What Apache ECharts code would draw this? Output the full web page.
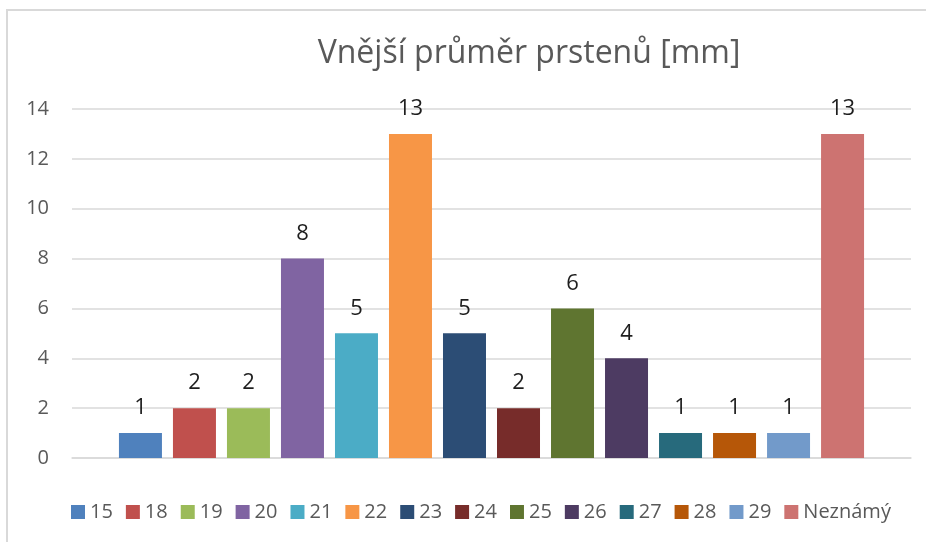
<!DOCTYPE html>
<html>
<head>
<meta charset="utf-8">
<title>Vnější průměr prstenů</title>
<script src="https://cdn.jsdelivr.net/npm/echarts@6/dist/echarts.min.js"></script>
<style>
  html, body { margin: 0; padding: 0; background: #fff; }
  #chart { width: 926px; height: 542px; }
</style>
</head>
<body>
<div id="chart"></div>
<script>
// data
const sizes = ['15', '18', '19', '20', '21', '22', '23', '24', '25', '26', '27', '28', '29', 'Neznámý'];
const counts = [1, 2, 2, 8, 5, 13, 5, 2, 6, 4, 1, 1, 1, 13];
const yTicks = [0, 2, 4, 6, 8, 10, 12, 14];

// excel-like palette
const palette = ['#4F81BD', '#C0504D', '#9BBB59', '#8064A2', '#4BACC6', '#F79646', '#2C4D75',
  '#772C2A', '#5F7530', '#4D3B62', '#276A7C', '#B65708', '#729ACA', '#CD7371'];

const font = '"Open Sans", Lato, sans-serif';

const chart = echarts.init(document.getElementById('chart'));

const series = sizes.map((name, i) => ({
  name: name,
  type: 'bar',
  data: [counts[i]],
  barWidth: 43,
  barGap: '25.6%',
  itemStyle: { color: palette[i] },
  label: {
    show: true,
    position: 'top',
    distance: 14,
    color: '#1e1e1e',
    fontFamily: font,
    fontSize: 22
  }
}));

chart.setOption({
  animation: false,
  title: {
    text: 'Vnější průměr prstenů [mm]',
    left: 524,
    top: 33,
    textAlign: 'center',
    textStyle: { color: '#595959', fontFamily: font, fontSize: 32, fontWeight: 'normal' }
  },
  graphic: [{
    type: 'rect',
    shape: { x: 7, y: 10, width: 1000, height: 600 },
    style: { fill: 'none', stroke: '#d9d9d9', lineWidth: 2 },
    silent: true
  }],
  legend: {
    data: sizes,
    left: 66,
    top: 497,
    itemWidth: 14,
    itemHeight: 14,
    itemGap: 13,
    icon: 'rect',
    textStyle: { color: '#595959', fontFamily: font, fontSize: 20 }
  },
  grid: { left: 72, right: 15, top: 109, bottom: 84 },
  xAxis: {
    type: 'category',
    data: [''],
    axisTick: { show: false },
    axisLabel: { show: false },
    axisLine: { lineStyle: { color: '#d9d9d9', width: 1.5 } }
  },
  yAxis: {
    type: 'value',
    min: yTicks[0],
    max: yTicks[yTicks.length - 1],
    interval: yTicks[1] - yTicks[0],
    axisLine: { show: false },
    axisTick: { show: false },
    splitLine: { lineStyle: { color: '#d9d9d9', width: 1.5 } },
    axisLabel: { color: '#595959', fontFamily: font, fontSize: 20, margin: 23 }
  },
  series: series
});

window.addEventListener('resize', () => chart.resize());
</script>
</body>
</html>
